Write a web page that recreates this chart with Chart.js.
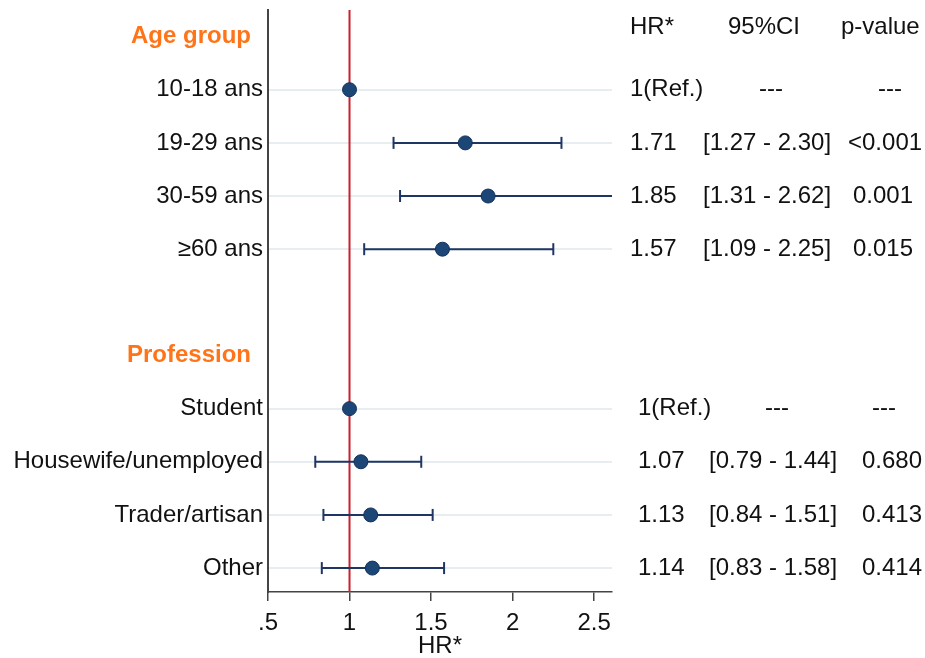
<!DOCTYPE html>
<html>
<head>
<meta charset="utf-8">
<script src="https://cdn.jsdelivr.net/npm/chart.js@4/dist/chart.umd.min.js"></script>
<style>
  body { margin: 0; background: #fff; }
  #wrap { width: 925px; height: 658px; }
</style>
</head>
<body>
<div id="wrap"><canvas id="forest"></canvas></div>
<script>
// rows from top to bottom, headers included
var rowLabels = ['Age group', '10-18 ans', '19-29 ans', '30-59 ans', '\u226560 ans', '',
                 'Profession', 'Student', 'Housewife/unemployed', 'Trader/artisan', 'Other'];
var headerRows = [0, 6];
var hrValues = [null, 1, 1.71, 1.85, 1.57, null, null, 1, 1.07, 1.13, 1.14];
var ciLow  = [null, null, 1.27, 1.31, 1.09, null, null, null, 0.79, 0.84, 0.83];
var ciHigh = [null, null, 2.30, 2.62, 2.25, null, null, null, 1.44, 1.51, 1.58];

var hrText = ['', '1(Ref.)', '1.71', '1.85', '1.57', '', '', '1(Ref.)', '1.07', '1.13', '1.14'];
var ciText = ['', '---', '[1.27 - 2.30]', '[1.31 - 2.62]', '[1.09 - 2.25]', '', '',
              '---', '[0.79 - 1.44]', '[0.84 - 1.51]', '[0.83 - 1.58]'];
var pText  = ['', '---', '<0.001', '0.001', '0.015', '', '', '---', '0.680', '0.413', '0.414'];
var columnTitles = ['HR*', '95%CI', 'p-value'];

var xTicks = [0.5, 1, 1.5, 2, 2.5];
var xTickLabels = ['.5', '1', '1.5', '2', '2.5'];
var refValue = 1;

var FONT = "'Liberation Sans', Arial, sans-serif";
var navy = '#1f3563';

var datasets = [];

// reference line
datasets.push({
  type: 'line',
  data: [{x: refValue, y: -0.5}, {x: refValue, y: 10.45}],
  borderColor: '#c8202c',
  borderWidth: 2,
  pointRadius: 0,
  order: 3
});

// whiskers with caps
for (var i = 0; i < rowLabels.length; i++) {
  if (ciLow[i] == null) continue;
  datasets.push({
    type: 'line',
    data: [{x: ciLow[i], y: i}, {x: ciHigh[i], y: i}],
    borderColor: navy,
    borderWidth: 2,
    pointStyle: 'line',
    rotation: 90,
    pointRadius: 6,
    pointBorderWidth: 2,
    pointBorderColor: navy,
    order: 2
  });
}

// point estimates
var pts = [];
for (var j = 0; j < rowLabels.length; j++) {
  if (hrValues[j] != null) pts.push({x: hrValues[j], y: j});
}
datasets.push({
  type: 'scatter',
  data: pts,
  pointRadius: 7,
  backgroundColor: '#1b4676',
  borderColor: '#13325a',
  borderWidth: 1,
  order: 1
});

// columns on the right of the plot
var tablePlugin = {
  id: 'tableText',
  afterDraw: function(chart) {
    var ctx = chart.ctx;
    var ys = chart.scales.y;
    ctx.save();
    ctx.font = '24px ' + FONT;
    ctx.fillStyle = '#111';
    ctx.textBaseline = 'middle';
    ctx.textAlign = 'left';
    var hy = ys.getPixelForValue(-0.17);
    ctx.fillText(columnTitles[0], 630, hy);
    ctx.fillText(columnTitles[1], 728, hy);
    ctx.fillText(columnTitles[2], 841, hy);
    for (var r = 0; r < rowLabels.length; r++) {
      if (!hrText[r]) continue;
      var y = ys.getPixelForValue(r);
      var first = r < 6;
      var x1 = first ? 630 : 638;
      var x2 = first ? 703 : 709;
      var x3 = first ? 853 : 862;
      ctx.textAlign = 'left';
      ctx.fillText(hrText[r], x1, y);
      if (ciText[r] == '---') {
        ctx.textAlign = 'center';
        ctx.fillText(ciText[r], x2 + 68, y);
      } else {
        ctx.fillText(ciText[r], x2, y);
      }
      if (pText[r] == '---') {
        ctx.textAlign = 'center';
        ctx.fillText(pText[r], x3 + (first ? 37 : 22), y);
      } else {
        ctx.textAlign = 'left';
        ctx.fillText(pText[r], pText[r].charAt(0) == '<' ? x3 - 5 : x3, y);
      }
    }
    ctx.restore();
  }
};

new Chart(document.getElementById('forest'), {
  type: 'scatter',
  data: {datasets: datasets},
  plugins: [tablePlugin],
  options: {
    responsive: true,
    maintainAspectRatio: false,
    animation: false,
    layout: {padding: {top: 10, right: 313, bottom: 0, left: 0}},
    plugins: {legend: {display: false}, tooltip: {enabled: false}},
    scales: {
      x: {
        type: 'linear',
        min: 0.5,
        max: 2.61,
        afterBuildTicks: function(scale) {
          scale.ticks = xTicks.map(function(v) { return {value: v}; });
        },
        afterFit: function(scale) { scale.height = 66; },
        ticks: {
          color: '#111',
          font: {family: FONT, size: 24},
          padding: 8,
          maxRotation: 0,
          callback: function(v) {
            var k = xTicks.indexOf(v);
            return k >= 0 ? xTickLabels[k] : '';
          }
        },
        grid: {drawOnChartArea: false, drawTicks: true, tickLength: 9, color: '#444', lineWidth: 1.5},
        border: {display: true, color: '#444', width: 1.5},
        title: {display: true, text: 'HR*', color: '#111', font: {family: FONT, size: 24, lineHeight: 1}, padding: {top: 0, bottom: 0}}
      },
      y: {
        type: 'linear',
        reverse: true,
        min: -0.5,
        max: 10.45,
        afterBuildTicks: function(scale) {
          scale.ticks = rowLabels.map(function(l, k) { return {value: k}; });
        },
        afterFit: function(scale) {
          scale.width = 268;
          scale.paddingTop = 0;
          scale.paddingBottom = 0;
        },
        ticks: {
          autoSkip: false,
          padding: 5,
          callback: function(v) {
            return headerRows.indexOf(v) >= 0 ? rowLabels[v] + '\u2002' : rowLabels[v];
          },
          color: function(c) {
            return headerRows.indexOf(c.tick.value) >= 0 ? '#ff7418' : '#111';
          },
          font: function(c) {
            if (c.tick && headerRows.indexOf(c.tick.value) >= 0)
              return {family: FONT, size: 24, weight: 'bold'};
            return {family: FONT, size: 24};
          }
        },
        grid: {
          drawTicks: false,
          lineWidth: 2,
          color: function(c) {
            var v = c.tick ? c.tick.value : -1;
            if (hrValues[v] == null) return 'rgba(0,0,0,0)';
            return '#e6eef2';
          }
        },
        border: {display: true, color: '#444', width: 2}
      }
    }
  }
});
</script>
</body>
</html>
